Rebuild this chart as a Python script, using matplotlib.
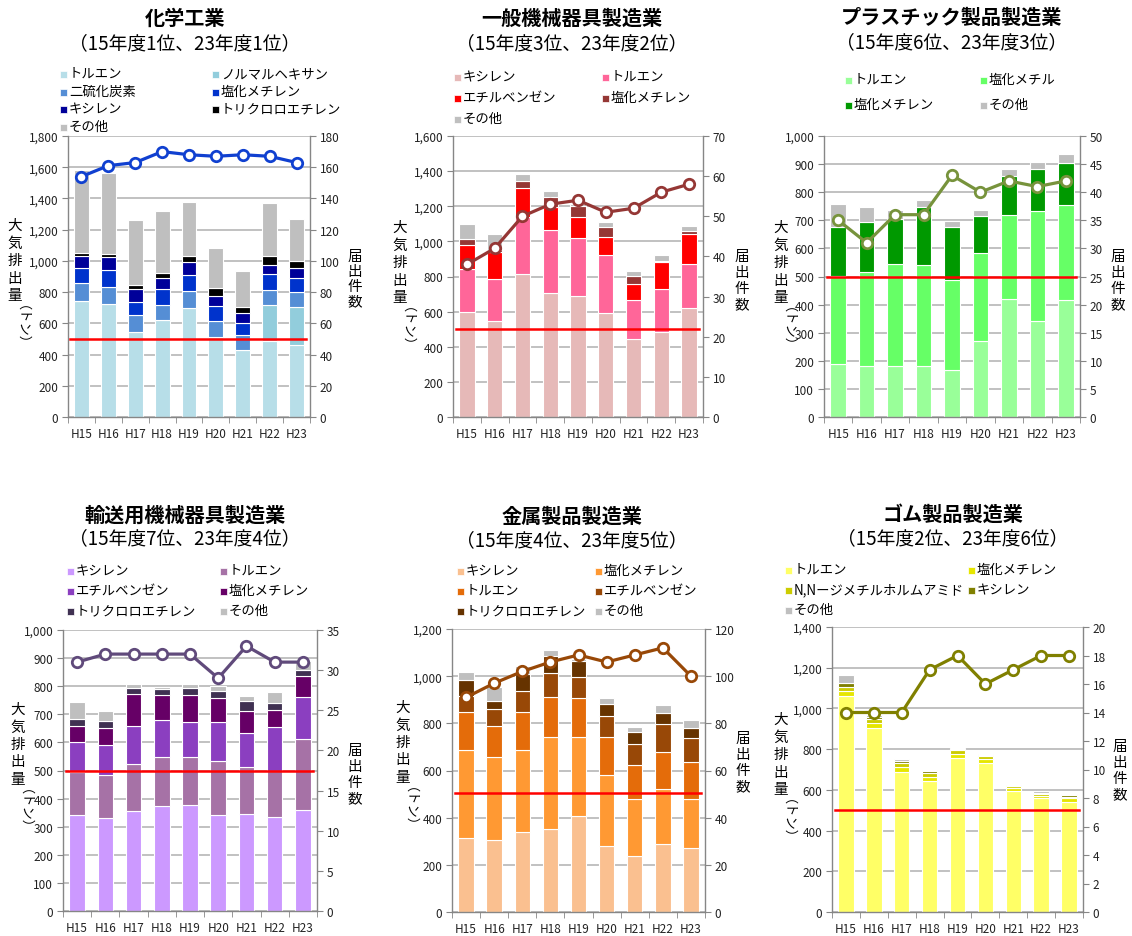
import matplotlib
matplotlib.use('Agg')
import matplotlib.pyplot as plt
from matplotlib.patches import Rectangle
from matplotlib.ticker import FuncFormatter, FixedLocator
import numpy as np

plt.rcParams['font.family'] = ['Noto Sans CJK JP', 'DejaVu Sans']

W, H = 1132, 937
years = ['H15', 'H16', 'H17', 'H18', 'H19', 'H20', 'H21', 'H22', 'H23']

# ---------------- 化学工業 ----------------
chem_title = '化学工業'
chem_sub = '（15年度1位、23年度1位）'
chem_labels = ['トルエン', 'ノルマルヘキサン', '二硫化炭素', '塩化メチレン', 'キシレン', 'トリクロロエチレン', 'その他']
chem_toluene = [746, 724, 543, 624, 699, 511, 426, 490, 462]
chem_hexane = [0, 0, 0, 0, 0, 0, 0, 228, 241]
chem_cs2 = [110, 107, 113, 96, 111, 107, 100, 98, 96]
chem_dcm = [96, 113, 83, 100, 102, 91, 77, 98, 91]
chem_xylene = [81, 79, 81, 68, 79, 69, 64, 60, 62]
chem_tce = [17, 21, 26, 34, 42, 46, 36, 59, 49]
chem_other = [531, 522, 415, 397, 347, 256, 234, 337, 267]
chem_reports = [154, 161, 163, 170, 168, 167, 168, 167, 163]
chem_colors = ['#b7dee8', '#92cddc', '#558ed5', '#0033cc', '#000099', '#000000', '#bfbfbf']

# ---------------- 一般機械器具製造業 ----------------
mach_title = '一般機械器具製造業'
mach_sub = '（15年度3位、23年度2位）'
mach_labels = ['キシレン', 'トルエン', 'エチルベンゼン', '塩化メチレン', 'その他']
mach_xylene = [597, 549, 814, 706, 689, 593, 445, 483, 619]
mach_toluene = [246, 237, 322, 358, 330, 329, 224, 246, 252]
mach_eb = [136, 152, 169, 129, 117, 101, 89, 151, 171]
mach_dcm = [34, 15, 40, 57, 67, 57, 47, 10, 19]
mach_other = [84, 89, 36, 34, 12, 28, 24, 32, 28]
mach_reports = [38, 42, 50, 53, 54, 51, 52, 56, 58]
mach_colors = ['#e6b9b8', '#ff6699', '#ff0000', '#953735', '#bfbfbf']

# ---------------- プラスチック製品製造業 ----------------
plas_title = 'プラスチック製品製造業'
plas_sub = '（15年度6位、23年度3位）'
plas_labels = ['トルエン', '塩化メチル', '塩化メチレン', 'その他']
plas_toluene = [189, 183, 183, 181, 169, 270, 420, 340, 417]
plas_mecl = [314, 332, 361, 360, 319, 312, 298, 393, 337]
plas_dcm = [174, 180, 160, 205, 189, 134, 140, 151, 151]
plas_other = [80, 51, 33, 26, 21, 20, 24, 24, 32]
plas_reports = [35, 31, 36, 36, 43, 40, 42, 41, 42]
plas_colors = ['#99ff99', '#66ff66', '#009900', '#bfbfbf']

# ---------------- 輸送用機械器具製造業 ----------------
tran_title = '輸送用機械器具製造業'
tran_sub = '（15年度7位、23年度4位）'
tran_labels = ['キシレン', 'トルエン', 'エチルベンゼン', '塩化メチレン', 'トリクロロエチレン', 'その他']
tran_xylene = [342, 331, 355, 375, 378, 342, 346, 334, 360]
tran_toluene = [151, 153, 168, 174, 169, 191, 166, 166, 252]
tran_eb = [107, 108, 134, 130, 124, 141, 122, 155, 150]
tran_dcm = [57, 61, 117, 89, 97, 83, 79, 62, 75]
tran_tce = [26, 24, 21, 21, 25, 25, 33, 23, 21]
tran_other = [59, 35, 14, 9, 16, 20, 18, 41, 32]
tran_reports = [31, 32, 32, 32, 32, 29, 33, 31, 31]
tran_colors = ['#cc99ff', '#a672a6', '#8b3fc0', '#660066', '#403152', '#bfbfbf']

# ---------------- 金属製品製造業 ----------------
metl_title = '金属製品製造業'
metl_sub = '（15年度4位、23年度5位）'
metl_labels = ['キシレン', '塩化メチレン', 'トルエン', 'エチルベンゼン', 'トリクロロエチレン', 'その他']
metl_xylene = [313, 304, 339, 350, 409, 280, 237, 287, 271]
metl_dcm = [372, 355, 350, 391, 332, 303, 243, 235, 209]
metl_toluene = [162, 129, 158, 170, 165, 158, 144, 158, 158]
metl_eb = [71, 71, 89, 101, 92, 89, 89, 118, 99]
metl_tce = [67, 35, 73, 75, 68, 52, 52, 46, 44]
metl_other = [31, 59, 33, 26, 7, 26, 19, 34, 34]
metl_reports = [91, 97, 102, 106, 109, 106, 109, 112, 100]
metl_colors = ['#fac090', '#ff9933', '#e46c0a', '#984807', '#663300', '#bfbfbf']

# ---------------- ゴム製品製造業 ----------------
rubr_title = 'ゴム製品製造業'
rubr_sub = '（15年度2位、23年度6位）'
rubr_labels = ['トルエン', '塩化メチレン', 'N,Nージメチルホルムアミド', 'キシレン', 'その他']
rubr_toluene = [1061, 906, 688, 643, 755, 733, 594, 558, 542]
rubr_dcm = [25, 24, 26, 22, 23, 17, 17, 12, 16]
rubr_dmf = [19, 20, 16, 19, 18, 16, 7, 8, 9]
rubr_xylene = [22, 10, 12, 9, 7, 5, 2, 8, 6]
rubr_other = [36, 6, 8, 5, 4, 4, 3, 8, 8]
rubr_reports = [14, 14, 14, 17, 18, 16, 17, 18, 18]
rubr_colors = ['#ffff66', '#e6e600', '#cccc00', '#808000', '#bfbfbf']

panels = [
    dict(title=chem_title, sub=chem_sub, labels=chem_labels, colors=chem_colors,
         series=[chem_toluene, chem_hexane, chem_cs2, chem_dcm, chem_xylene, chem_tce, chem_other],
         reports=chem_reports, line='#1040d0', ymax=1800, ystep=200, y2max=180, y2step=20, red=500,
         rect=(68, 137, 310, 418), tx=185, ty=(18, 44), leg=(60, 212, 74, 17.6),
         yl=(15, 226), yr=(355, 257, 15)),
    dict(title=mach_title, sub=mach_sub, labels=mach_labels, colors=mach_colors,
         series=[mach_xylene, mach_toluene, mach_eb, mach_dcm, mach_other],
         reports=mach_reports, line='#953735', ymax=1600, ystep=200, y2max=70, y2step=10, red=500,
         rect=(453, 137, 703, 418), tx=572, ty=(18, 44), leg=(454, 602, 77, 21),
         yl=(400, 228), yr=(742, 257, 16)),
    dict(title=plas_title, sub=plas_sub, labels=plas_labels, colors=plas_colors,
         series=[plas_toluene, plas_mecl, plas_dcm, plas_other],
         reports=plas_reports, line='#77933c', ymax=1000, ystep=100, y2max=50, y2step=5, red=500,
         rect=(824, 137, 1080, 418), tx=952, ty=(17, 43), leg=(845, 980, 80, 25),
         yl=(781, 228), yr=(1118, 257, 16)),
    dict(title=tran_title, sub=tran_sub, labels=tran_labels, colors=tran_colors,
         series=[tran_xylene, tran_toluene, tran_eb, tran_dcm, tran_tce, tran_other],
         reports=tran_reports, line='#604a7b', ymax=1000, ystep=100, y2max=35, y2step=5, red=500,
         rect=(63, 631, 317, 912), tx=185, ty=(515, 539), leg=(67, 220, 571, 20),
         yl=(18, 710), yr=(355, 751, 16)),
    dict(title=metl_title, sub=metl_sub, labels=metl_labels, colors=metl_colors,
         series=[metl_xylene, metl_dcm, metl_toluene, metl_eb, metl_tce, metl_other],
         reports=metl_reports, line='#984807', ymax=1200, ystep=200, y2max=120, y2step=20, red=505,
         rect=(452, 630, 705, 913), tx=572, ty=(516, 541), leg=(457, 595, 571, 20),
         yl=(403, 708), yr=(743, 739, 16)),
    dict(title=rubr_title, sub=rubr_sub, labels=rubr_labels, colors=rubr_colors,
         series=[rubr_toluene, rubr_dcm, rubr_dmf, rubr_xylene, rubr_other],
         reports=rubr_reports, line='#808000', ymax=1400, ystep=200, y2max=20, y2step=2, red=500,
         rect=(832, 628, 1083, 913), tx=953, ty=(514, 539), leg=(785, 968, 570, 20),
         yl=(781, 720), yr=(1120, 747, 16)),
]

fig = plt.figure(figsize=(W / 100, H / 100), dpi=100)

def fx(px):
    return px / W

def fy(py):
    return 1 - py / H

spine_c = '#868686'
x = np.arange(len(years))

for p in panels:
    l, t, r, b = p['rect']
    ax = fig.add_axes([fx(l), fy(b), (r - l) / W, (b - t) / H])
    bottom = np.zeros(len(years))
    for vals, col in zip(p['series'], p['colors']):
        v = np.array(vals, dtype=float)
        ax.bar(x, v, width=0.55, bottom=bottom, color=col, edgecolor='white', linewidth=0.8, zorder=2)
        bottom += v
    ax.set_xlim(-0.5, len(years) - 0.5)
    ax.set_ylim(0, p['ymax'])
    ax.set_yticks(np.arange(0, p['ymax'] + 1, p['ystep']))
    ax.yaxis.set_major_formatter(FuncFormatter(lambda v, pos: f'{v:,.0f}'))
    ax.yaxis.grid(True, color='#b0b0b0', lw=1.1, zorder=0)
    ax.set_axisbelow(True)
    ax.set_xticks(x)
    ax.set_xticklabels(years)
    ax.xaxis.set_minor_locator(FixedLocator(np.arange(-0.5, len(years), 1.0)))
    ax.tick_params(axis='x', which='major', length=0, labelsize=8.5, pad=7, labelcolor='#222222')
    ax.tick_params(axis='x', which='minor', length=4, color=spine_c, direction='out')
    ax.tick_params(axis='y', length=4, color=spine_c, labelsize=8.5, labelcolor='#222222', pad=3)
    for s in ['top', 'right']:
        ax.spines[s].set_visible(False)
    for s in ['left', 'bottom']:
        ax.spines[s].set_color(spine_c)
        ax.spines[s].set_linewidth(1.0)
    ax.axhline(p['red'], xmin=0.01, xmax=0.985, color='#ff0000', lw=1.8, zorder=4)

    ax2 = ax.twinx()
    ax2.set_ylim(0, p['y2max'])
    ax2.set_yticks(np.arange(0, p['y2max'] + 0.01, p['y2step']))
    ax2.tick_params(axis='y', length=4, color=spine_c, labelsize=8.5, labelcolor='#222222', pad=3)
    for s in ['top', 'left', 'bottom']:
        ax2.spines[s].set_visible(False)
    ax2.spines['right'].set_color(spine_c)
    ax2.spines['right'].set_linewidth(1.0)
    ax2.plot(x, p['reports'], color=p['line'], lw=2.3, marker='o', ms=7.5,
             mfc='white', mec=p['line'], mew=2.0, zorder=5)

    # titles
    fig.text(fx(p['tx']), fy(p['ty'][0]), p['title'], ha='center', va='center',
             fontsize=14.5, fontweight='bold')
    fig.text(fx(p['tx']), fy(p['ty'][1]), p['sub'], ha='center', va='center', fontsize=13.5)

    # legend (row-wise, two columns)
    c1, c2, ly, step = p['leg']
    for i, (lab, col) in enumerate(zip(p['labels'], p['colors'])):
        cx = c1 if i % 2 == 0 else c2
        cy = ly + (i // 2) * step
        fig.patches.append(Rectangle((fx(cx), fy(cy + 5)), 7 / W, 7 / H, transform=fig.transFigure,
                                     facecolor=col, edgecolor='white', lw=0.5))
        fig.text(fx(cx + 9), fy(cy), lab, ha='left', va='center', fontsize=9.6)

    # left vertical axis label
    lx, ly0 = p['yl']
    for i, ch in enumerate('大気排出量'):
        fig.text(fx(lx), fy(ly0 + i * 17.5), ch, ha='center', va='center', fontsize=10.5)
    fig.text(fx(lx), fy(ly0 + 4 * 17.5 + 9), '（トン）', ha='center', va='top',
             rotation=-90, fontsize=9.5)

    # right vertical axis label
    rx, ry0, rstep = p['yr']
    for i, ch in enumerate('届出件数'):
        fig.text(fx(rx), fy(ry0 + i * rstep), ch, ha='center', va='center', fontsize=10.5)

fig.savefig('out.png', dpi=100)
